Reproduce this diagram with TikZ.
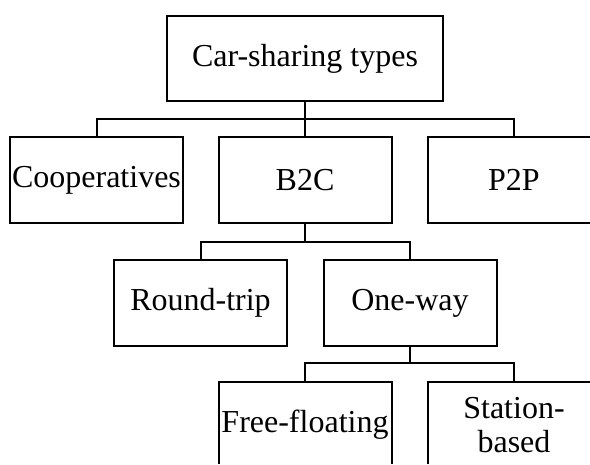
\documentclass[tikz,border=0pt]{standalone}
\usepackage{fontspec}
\setmainfont{Liberation Serif}
\tikzset{
  box/.style={draw,line width=2pt,minimum width=173pt,minimum height=86pt,inner sep=0pt,align=center},
  link/.style={line width=2pt}
}
\begin{document}
\begin{tikzpicture}[x=1pt,y=1pt,font=\fontsize{32}{34}\selectfont]
    \clip (0,0) rectangle (590,464); %pagina tagliata come l'originale
    \node[box,minimum width=276pt,minimum height=85pt] (types) at (305,405.5) {Car-sharing types};
    \node[box] (coop) at (96.5,284) {Cooperatives};
    \node[box] (btoc) at (305,284) {B2C};
    \node[box] (ptop) at (514,284) {P2P};
    \node[box] (round) at (200.5,161) {Round-trip};
    \node[box] (oneway) at (410,161) {One-way};
    \node[box] (free) at (305,39) {Free-floating};
    \node[box] (station) at (514,39) {Station-\\based};
    \coordinate (bus1) at (0,345);
    \coordinate (bus2) at (0,222);
    \coordinate (bus3) at (0,101);
    % primo livello
    \draw[link] (types.south) -- (types.south |- bus1);
    \draw[link] (coop.north) |- (bus1 -| ptop.north) -- (ptop.north);
    \draw[link] (btoc.north) -- (btoc.north |- bus1);
    % B2C
    \draw[link] (btoc.south) -- (btoc.south |- bus2);
    \draw[link] (round.north) |- (bus2 -| oneway.north) -- (oneway.north);
    % One-way
    \draw[link] (oneway.south) -- (oneway.south |- bus3);
    \draw[link] (free.north) |- (bus3 -| station.north) -- (station.north);
\end{tikzpicture}
\end{document}
